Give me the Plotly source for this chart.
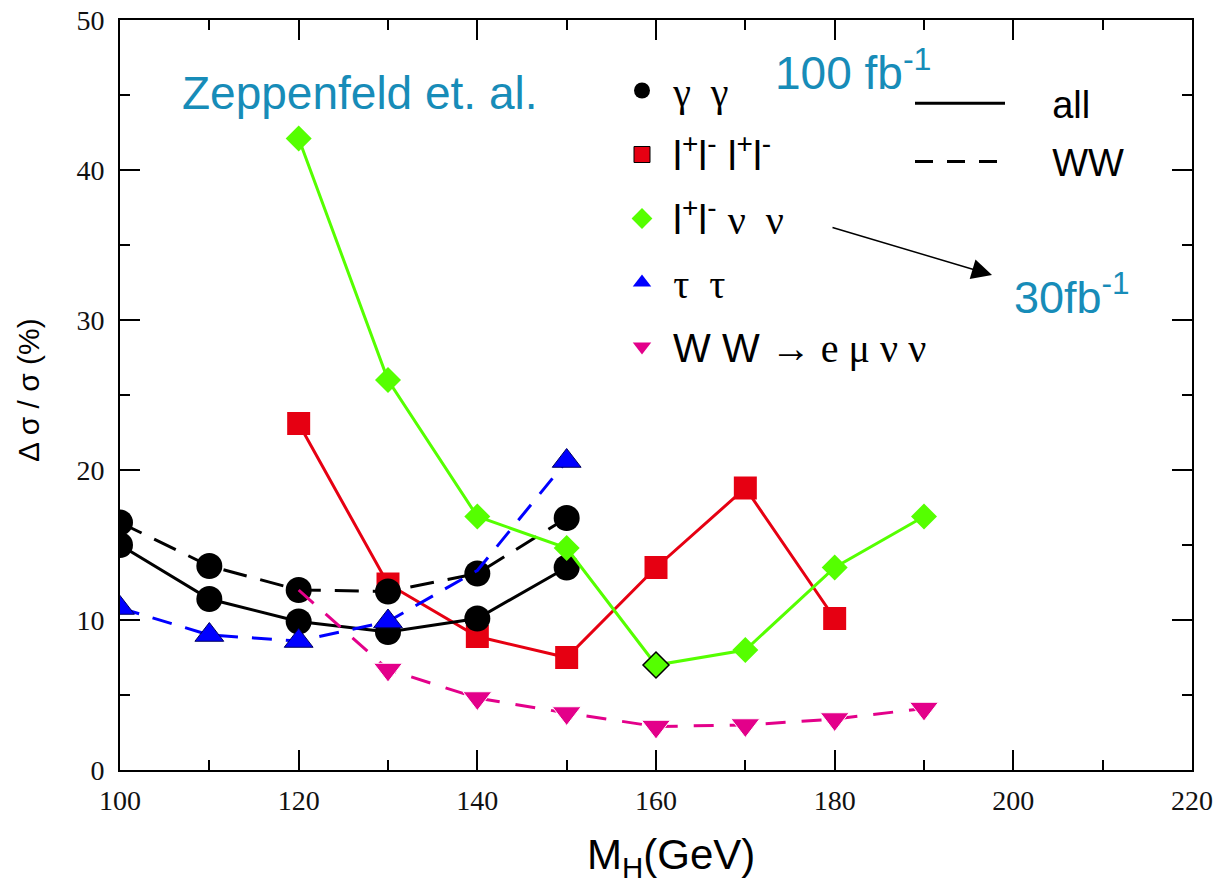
import plotly.graph_objects as go

# Higgs mass points (GeV)
mass_gg = [100, 110, 120, 130, 140, 150]
mass_4l = [120, 130, 140, 150, 160, 170, 180]
mass_2l2nu = [120, 130, 140, 150, 160, 170, 180, 190]
mass_tautau = [100, 110, 120, 130, 140, 150]
mass_ww = [120, 130, 140, 150, 160, 170, 180, 190]

# relative precision  Δσ/σ (%)
gg_all = [15.0, 11.4, 9.9, 9.2, 10.1, 13.5]
gg_ww = [16.5, 13.6, 12.0, 11.9, 13.1, 16.8]
llll_all = [23.1, 12.4, 8.9, 7.5, 13.5, 18.8, 10.1]
llnunu_all = [42.1, 26.0, 16.9, 14.8, 7.0, 8.0, 13.5, 16.9]
tautau_ww = [10.8, 9.0, 8.6, 9.9, 13.3, 20.6]
ww_emunu = [12.0, 6.7, 4.8, 3.8, 2.9, 3.0, 3.4, 4.1]

# axis ticks
x_ticks = [100, 120, 140, 160, 180, 200, 220]
y_ticks = [0, 10, 20, 30, 40, 50]

RED = "#e60012"
GREEN = "#55ff00"
BLUE = "#0000ff"
MAGENTA = "#e3008a"
CYAN = "#178cb8"
SANS = "Liberation Sans, Arial, sans-serif"
SERIF = "Liberation Serif, Times New Roman, serif"

W, H = 1219, 889
L, R, T, B = 120, 27, 20, 119


def px_x(p):
    return (p - L) / (W - L - R)


def px_y(p):
    return (H - B - p) / (H - T - B)


def greek(s):
    return f"<span style='font-family:{SERIF}'>{s}</span>"


fig = go.Figure()

# l+l- l+l- (solid)
fig.add_trace(go.Scatter(
    x=mass_4l, y=llll_all, mode="lines+markers", showlegend=False,
    line=dict(color=RED, width=3),
    marker=dict(symbol="square", size=23, color=RED, opacity=1),
))
# γγ, all (solid)
fig.add_trace(go.Scatter(
    x=mass_gg, y=gg_all, mode="lines+markers", showlegend=False,
    line=dict(color="black", width=3),
    marker=dict(symbol="circle", size=26, color="black", opacity=1),
))
# γγ, WW (dashed)
fig.add_trace(go.Scatter(
    x=mass_gg, y=gg_ww, mode="lines+markers", showlegend=False,
    line=dict(color="black", width=3, dash="24px,14px"),
    marker=dict(symbol="circle", size=26, color="black", opacity=1),
))
# ττ (dashed); the 140 GeV point sits under the γγ marker
fig.add_trace(go.Scatter(
    x=mass_tautau, y=tautau_ww, mode="lines+markers", showlegend=False,
    line=dict(color=BLUE, width=3, dash="20px,14px"),
    marker=dict(symbol="triangle-up", size=[25, 25, 25, 25, 0, 25], color=BLUE,
                opacity=1, line=dict(color="#000060", width=1)),
))
# WW -> e mu nu nu (dashed)
fig.add_trace(go.Scatter(
    x=mass_ww, y=ww_emunu, mode="lines+markers", showlegend=False,
    line=dict(color=MAGENTA, width=3, dash="20px,16px"),
    marker=dict(symbol="triangle-down", size=[0] + [25] * 7, color=MAGENTA,
                opacity=1),
))
# l+l- nu nu (solid)
fig.add_trace(go.Scatter(
    x=mass_2l2nu, y=llnunu_all, mode="lines+markers", showlegend=False,
    line=dict(color=GREEN, width=3),
    marker=dict(symbol="diamond", size=20, color=GREEN, opacity=1,
                line=dict(color="black", width=[0, 0, 0, 0, 1.5, 0, 0, 0])),
))

# legend entries for the channels
channels = [
    (greek("γ&nbsp;&nbsp;γ"), "circle", "black", None),
    ("l<sup>+</sup>l<sup>-</sup> l<sup>+</sup>l<sup>-</sup>", "square", RED, "black"),
    ("l<sup>+</sup>l<sup>-</sup> " + greek("ν&nbsp;&nbsp;ν"), "diamond", GREEN, None),
    (greek("τ&nbsp;&nbsp;τ"), "triangle-up", BLUE, None),
    ("W W " + greek("→ e μ ν ν"), "triangle-down", MAGENTA, None),
]
for i, (name, sym, col, edge) in enumerate(channels):
    fig.add_trace(go.Scatter(
        x=[None], y=[None], mode="markers", name=" " + name,
        legend="legend", legendgroup=f"ch{i}",
        marker=dict(symbol=sym, size=16, color=col,
                    line=dict(color=edge or col, width=1 if edge else 0)),
    ))

# legend entries for the line styles
for name, dash in [("all", "solid"), ("WW", "18px,14px")]:
    fig.add_trace(go.Scatter(
        x=[None], y=[None], mode="lines", name="    " + name,
        legend="legend2", legendgroup=name,
        line=dict(color="black", width=3, dash=dash),
    ))

axis_common = dict(
    showline=True, linecolor="black", linewidth=2, mirror="allticks",
    ticks="inside", ticklen=20, tickwidth=1.5, tickcolor="black",
    showgrid=False, zeroline=False,
    tickfont=dict(family=SERIF, size=28, color="#111"),
)

fig.update_xaxes(
    range=[100, 220], tickvals=x_ticks, ticktext=[str(v) for v in x_ticks],
    minor=dict(dtick=10, ticklen=10, tickwidth=1.5, tickcolor="black", ticks="inside"),
    ticklabelstandoff=4,
    **axis_common,
)
fig.update_yaxes(
    range=[0, 50], tickvals=y_ticks, ticktext=[str(v) for v in y_ticks],
    minor=dict(dtick=5, ticklen=10, tickwidth=1.5, tickcolor="black", ticks="inside"),
    ticklabelstandoff=8,
    **axis_common,
)

annotations = [
    dict(text="Δ σ / σ (%)", x=px_x(29), y=px_y(390), textangle=-90,
         font=dict(family=SANS, size=30, color="black")),
    dict(text="M<sub>H</sub>(GeV)", x=px_x(671), y=px_y(857),
         font=dict(family=SANS, size=42, color="black")),
    dict(text="Zeppenfeld et. al.", x=px_x(180), y=px_y(93), xanchor="left",
         font=dict(family=SANS, size=46, color=CYAN)),
    dict(text="100 fb<sup>-1</sup>", x=px_x(773), y=px_y(70), xanchor="left",
         font=dict(family=SANS, size=46, color=CYAN)),
    dict(text="30fb<sup>-1</sup>", x=px_x(1012), y=px_y(294), xanchor="left",
         font=dict(family=SANS, size=45, color=CYAN)),
    dict(text="", x=px_x(992), y=px_y(275), ax=831 - 992, ay=227 - 275,
         showarrow=True, arrowhead=2, arrowsize=2.7, arrowwidth=1.5,
         arrowcolor="black"),
]
for a in annotations:
    a.setdefault("xref", "paper")
    a.setdefault("yref", "paper")
    a.setdefault("showarrow", False)
    a.setdefault("xanchor", "center")
    a.setdefault("yanchor", "middle")
fig.update_layout(annotations=annotations)

fig.update_layout(
    width=W, height=H,
    margin=dict(l=L, r=R, t=T, b=B, autoexpand=False),
    paper_bgcolor="white", plot_bgcolor="white",
    legend=dict(
        x=px_x(622), y=px_y(58), xanchor="left", yanchor="top",
        font=dict(family=SANS, size=40, color="black"),
        bgcolor="rgba(0,0,0,0)", tracegroupgap=9, itemsizing="trace",
    ),
    legend2=dict(
        x=px_x(910), y=px_y(72), xanchor="left", yanchor="top",
        font=dict(family=SANS, size=38, color="black"),
        bgcolor="rgba(0,0,0,0)", tracegroupgap=6, itemwidth=90,
    ),
)

fig.write_html("out.html")
